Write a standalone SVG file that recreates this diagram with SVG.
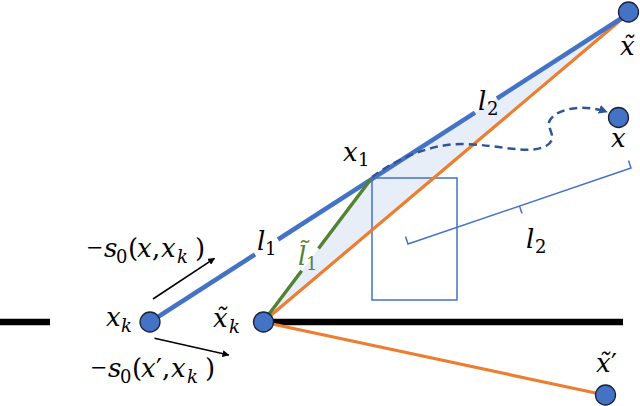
<svg xmlns="http://www.w3.org/2000/svg" width="640" height="406" viewBox="0 0 640 406">
<defs>
<style>
text{font-family:'DejaVu Serif','Liberation Serif',serif;font-size:26px;fill:#000}
.i{font-style:italic}
.s{font-size:18px}
.blue{stroke:#4472C4;stroke-width:4.5;fill:none}
.orange{stroke:#ED7D31;stroke-width:3.2;fill:none}
.green{stroke:#548235;stroke-width:3.5;fill:none}
.node{fill:#4472C4;stroke:#1A2238;stroke-width:1.3}
.thin{stroke:#4472C4;stroke-width:1.5;fill:none}
.arr{stroke:#000;stroke-width:1.6;fill:none}
</style>
<marker id="ah" viewBox="0 0 10 10" refX="9" refY="5" markerWidth="7" markerHeight="7" markerUnits="userSpaceOnUse" orient="auto"><path d="M0,0 L10,5 L0,10 z" fill="#000"/></marker>
<marker id="ahd" viewBox="0 0 10 10" refX="9" refY="5" markerWidth="9" markerHeight="9" markerUnits="userSpaceOnUse" orient="auto"><path d="M0,0 L10,5 L0,10 z" fill="#2F5597"/></marker>
</defs>
<rect width="640" height="406" fill="#fff"/>
<g id="connectors">
<polygon points="263,322 371,179 628,14" fill="#E8EEF8"/>
<rect x="372" y="178" width="85" height="122" class="thin"/>
<line x1="0" y1="322" x2="50" y2="322" stroke="#000" stroke-width="6.5"/>
<line x1="263" y1="322" x2="623" y2="322" stroke="#000" stroke-width="6.5"/>
<line x1="263" y1="322" x2="628" y2="14" class="orange"/>
<line x1="263" y1="322" x2="605" y2="395" class="orange"/>
<line x1="150" y1="322" x2="255" y2="254.4" class="blue"/>
<line x1="278" y1="239.5" x2="475" y2="112.7" class="blue"/>
<line x1="497" y1="98.5" x2="628" y2="14" class="blue"/>
<line x1="263" y1="322" x2="301.7" y2="270.8" class="green"/>
<line x1="318.5" y1="248.5" x2="371" y2="179" class="green"/>
<path d="M372,177 C395,160 430,143 465,144 C500,145 528,155 546,146 C560,138 545,128 550,120 C557,108 585,104 607,112" stroke="#2F5597" stroke-width="2.5" stroke-dasharray="8,5" fill="none" marker-end="url(#ahd)"/>
<path d="M628.5,160.5 L631,168 L408,244 L405.5,236.5 M519.5,206 L522,213.5" class="thin"/>
<line x1="153" y1="299" x2="214.5" y2="258.3" class="arr" marker-end="url(#ah)"/>
<line x1="154.5" y1="338.3" x2="228.8" y2="355" class="arr" marker-end="url(#ah)"/>
</g>
<g id="node-xk"><circle cx="150" cy="322" r="10" class="node"/></g>
<g id="node-xtk"><circle cx="263.5" cy="322" r="10" class="node"/></g>
<g id="node-xt"><circle cx="628.5" cy="12" r="10" class="node"/></g>
<g id="node-x"><circle cx="618.5" cy="117.5" r="10" class="node"/></g>
<g id="node-xtp"><circle cx="605.5" cy="395" r="10" class="node"/></g>
<g id="labels">
<text font-family="DejaVu Serif, serif" y="257"><tspan x="87" font-family="Liberation Serif, serif" font-size="28">−</tspan><tspan x="104" class="i">s</tspan><tspan x="116" y="263" class="s">0</tspan><tspan x="128" y="257">(</tspan><tspan x="137" class="i">x</tspan><tspan x="152">,</tspan><tspan x="161" class="i">x</tspan><tspan x="177" y="263" class="s i">k</tspan><tspan x="195" y="257">)</tspan></text>
<text font-family="DejaVu Serif, serif" y="377"><tspan x="91" font-family="Liberation Serif, serif" font-size="28">−</tspan><tspan x="108" class="i">s</tspan><tspan x="120" y="383" class="s">0</tspan><tspan x="132" y="377">(</tspan><tspan x="141" class="i">x</tspan><tspan x="156">′</tspan><tspan x="162">,</tspan><tspan x="171" class="i">x</tspan><tspan x="187" y="383" class="s i">k</tspan><tspan x="205" y="377">)</tspan></text>
<text font-family="DejaVu Serif, serif" y="326"><tspan x="106" class="i">x</tspan><tspan x="121" y="332" class="s i">k</tspan></text>
<text font-family="DejaVu Serif, serif" y="327"><tspan x="213" class="i">x̃</tspan><tspan x="229" y="333" class="s i">k</tspan></text>
<text font-family="DejaVu Serif, serif" y="161"><tspan x="343" class="i">x</tspan><tspan x="358" y="166" class="s">1</tspan></text>
<text font-family="DejaVu Serif, serif" class="i" x="611" y="147">x</text>
<text font-family="DejaVu Serif, serif" class="i" x="620" y="55">x̃</text>
<text font-family="DejaVu Serif, serif" y="372"><tspan x="596" class="i">x̃</tspan><tspan x="611">′</tspan></text>
<text font-family="DejaVu Serif, serif" y="250"><tspan x="257" class="i">l</tspan><tspan x="265" y="255" class="s">1</tspan></text>
<text font-family="DejaVu Serif, serif" y="265" style="fill:#548235"><tspan x="298" class="i">l̃</tspan><tspan x="306" y="270" class="s">1</tspan></text>
<text font-family="DejaVu Serif, serif" y="110"><tspan x="478" class="i">l</tspan><tspan x="487" y="115" class="s">2</tspan></text>
<text font-family="DejaVu Serif, serif" y="248"><tspan x="526" class="i">l</tspan><tspan x="535" y="253" class="s">2</tspan></text>
</g>
</svg>
